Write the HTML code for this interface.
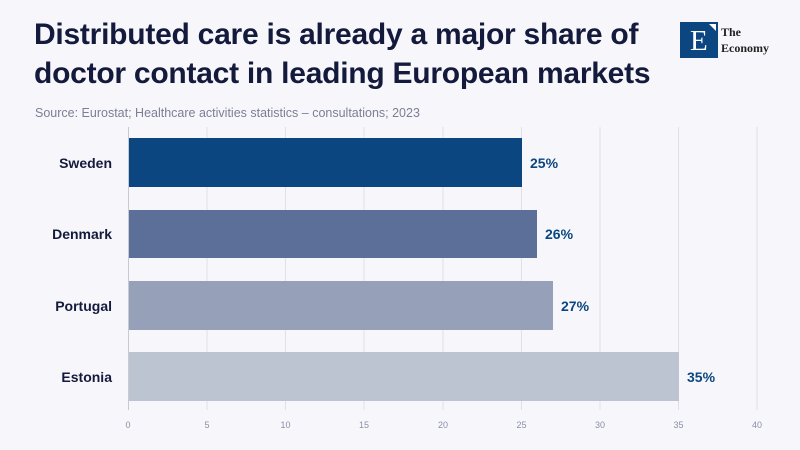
<!DOCTYPE html>
<html><head><style>
body{margin:0;width:800px;height:450px;background:#f7f7fb;font-family:"Liberation Sans",sans-serif;position:relative;overflow:hidden}
.t{position:absolute;left:34px;top:15px;font-size:30px;font-weight:bold;color:#141a3c;line-height:39px;letter-spacing:-0.25px}
.s{position:absolute;left:35px;top:106px;font-size:12.5px;color:#7a7f95}
</style></head><body>
<div class="t">Distributed care is already a major share of<br>doctor contact in leading European markets</div>
<div class="s">Source: Eurostat; Healthcare activities statistics – consultations; 2023</div>
<div style="position:absolute;left:680px;top:22px;width:38px;height:36px;background:#0b4680"></div>
<div style="position:absolute;left:690px;top:25px;font:29px 'Liberation Serif',serif;color:#fff">E</div>
<div style="position:absolute;left:709px;top:24px;width:0;height:0;border-top:7px solid #fff;border-left:7px solid transparent"></div>
<div style="position:absolute;left:721px;top:24px;font:bold 12px/16px 'Liberation Serif',serif;color:#222">The<br>Economy</div>
<svg width="800" height="450" style="position:absolute;left:0;top:0">
<g stroke="#dfe0e8" stroke-width="1">
<line x1="207" y1="127" x2="207" y2="410"/><line x1="285.5" y1="127" x2="285.5" y2="410"/><line x1="364" y1="127" x2="364" y2="410"/><line x1="443" y1="127" x2="443" y2="410"/><line x1="521.5" y1="127" x2="521.5" y2="410"/><line x1="600" y1="127" x2="600" y2="410"/><line x1="678.5" y1="127" x2="678.5" y2="410"/><line x1="757" y1="127" x2="757" y2="410"/>
</g>
<line x1="128.5" y1="127" x2="128.5" y2="410" stroke="#c8c9d2"/>
<rect x="129" y="138" width="393" height="49" fill="#0b4680"/>
<rect x="129" y="210" width="408" height="48" fill="#5b6f98"/>
<rect x="129" y="281" width="424" height="49" fill="#96a1b9"/>
<rect x="129" y="352" width="550" height="49" fill="#bcc3d1"/>
<g font-family="Liberation Sans" font-size="14" font-weight="bold" fill="#141a3c" text-anchor="end">
<text x="112" y="168">Sweden</text><text x="112" y="239">Denmark</text><text x="112" y="311">Portugal</text><text x="112" y="382">Estonia</text></g>
<g font-family="Liberation Sans" font-size="14" font-weight="bold" fill="#0b4680">
<text x="530" y="168">25%</text><text x="545" y="239">26%</text><text x="561" y="311">27%</text><text x="687" y="382">35%</text></g>
<g font-family="Liberation Sans" font-size="9" fill="#8a8fa5" text-anchor="middle">
<text x="128" y="428">0</text><text x="207" y="428">5</text><text x="285.5" y="428">10</text><text x="364" y="428">15</text><text x="443" y="428">20</text><text x="521.5" y="428">25</text><text x="600" y="428">30</text><text x="678.5" y="428">35</text><text x="757" y="428">40</text></g>
</svg>
</body></html>
